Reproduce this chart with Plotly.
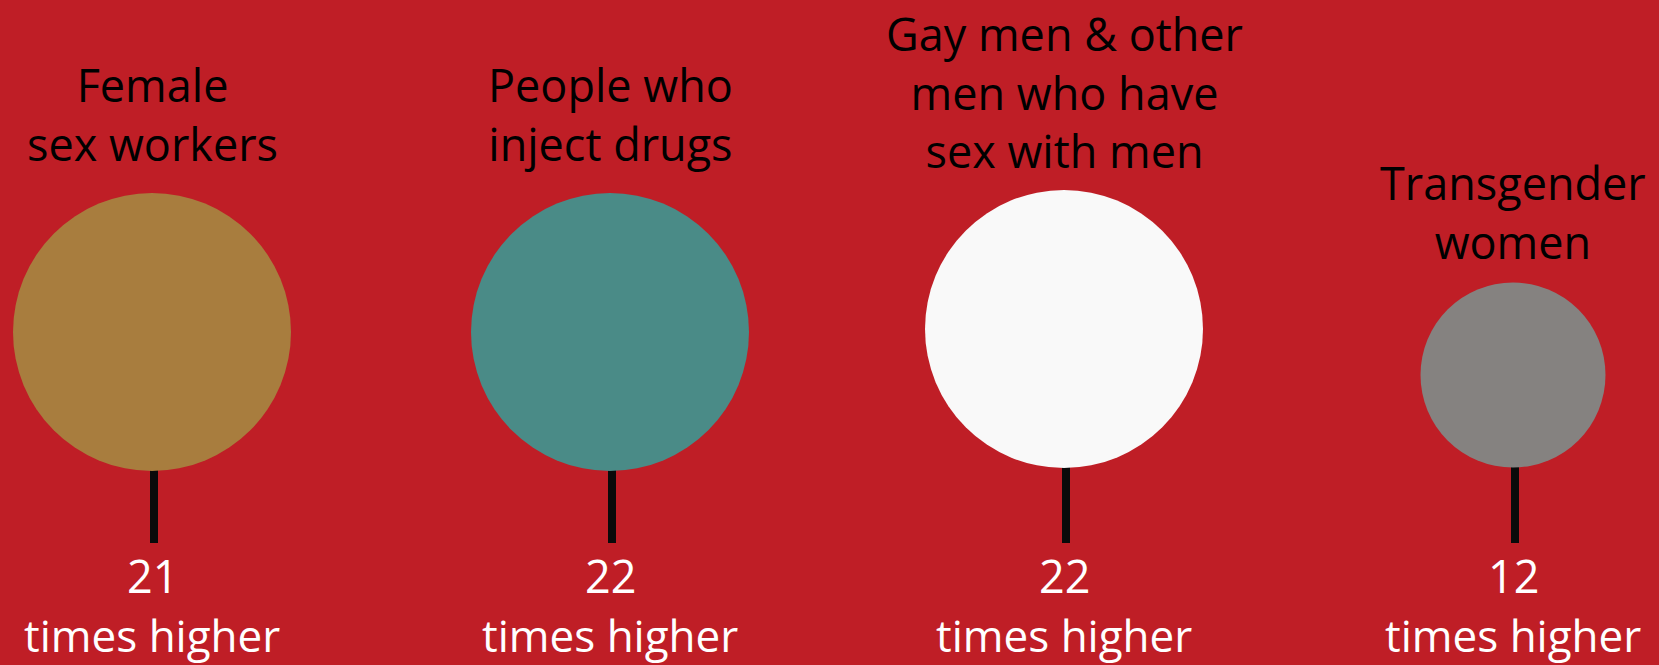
import plotly.graph_objects as go

# ---- data ----
categories = ["Female<br>sex workers", "People who<br>inject drugs",
              "Gay men & other<br>men who have<br>sex with men", "Transgender<br>women"]
values = [21, 22, 22, 12]
value_suffix = "times higher"

# ---- layout / style (pixel space, y downwards) ----
x_pos = [152, 610, 1064, 1513]
y_circle = [332, 332, 329, 375]
diam_px = [278, 278, 278, 185]
stem_bottom = 543
label_bottom = [176, 176, 183, 274]
num_y = 575
suffix_y = 635
colors = ["#A87D3E", "#4A8B87", "#F9F9F9", "#858280"]
bg = "#BF1E26"
font_family = "Open Sans, Liberation Sans, sans-serif"

W, H = 1659, 665
fig = go.Figure()

# stems
sx, sy = [], []
for x, y in zip(x_pos, y_circle):
    sx += [x + 2, x + 2, None]
    sy += [y, stem_bottom, None]
fig.add_trace(go.Scatter(x=sx, y=sy, mode="lines",
                         line=dict(color="#0A0A0A", width=8),
                         hoverinfo="skip", showlegend=False))

# bubbles
fig.add_trace(go.Scatter(x=x_pos, y=y_circle, mode="markers",
                         marker=dict(size=diam_px, color=colors, opacity=1,
                                     line=dict(width=0)),
                         text=[c.replace("<br>", " ") for c in categories],
                         customdata=values,
                         hovertemplate="%{text}: %{customdata} times higher<extra></extra>",
                         showlegend=False))

for x, lab, lb, v in zip(x_pos, categories, label_bottom, values):
    fig.add_annotation(x=x, y=lb, text=lab, showarrow=False, xanchor="center",
                       yanchor="bottom", align="center",
                       font=dict(family=font_family, size=45, color="#000000"))
    fig.add_annotation(x=x, y=num_y, text=str(v), showarrow=False, xanchor="center",
                       yanchor="middle",
                       font=dict(family=font_family, size=45, color="#FFFFFF"))
    fig.add_annotation(x=x, y=suffix_y, text=value_suffix, showarrow=False,
                       xanchor="center", yanchor="middle",
                       font=dict(family=font_family, size=44, color="#FFFFFF"))

fig.update_xaxes(range=[0, W], visible=False, fixedrange=True)
fig.update_yaxes(range=[H, 0], visible=False, fixedrange=True)
fig.update_layout(width=W, height=H, margin=dict(l=0, r=0, t=0, b=0),
                  paper_bgcolor=bg, plot_bgcolor=bg, showlegend=False)

fig.write_html("out.html", config={"displayModeBar": False},
               post_script="document.body.style.margin='0';document.body.style.overflow='hidden';document.body.style.background='%s';" % bg)
